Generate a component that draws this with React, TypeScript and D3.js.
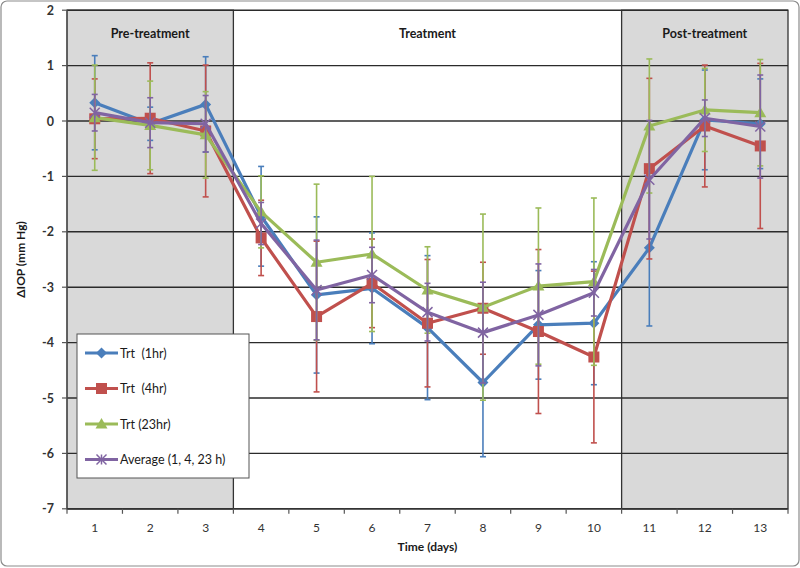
import React from "react";
import * as d3 from "d3";

const days = [1, 2, 3, 4, 5, 6, 7, 8, 9, 10, 11, 12, 13];
const yTicks = [2, 1, 0, -1, -2, -3, -4, -5, -6, -7];

const seriesNames = ["Trt  (1hr)", "Trt  (4hr)", "Trt (23hr)", "Average (1, 4, 23 h)"];
const trt1 = [0.33, -0.05, 0.3, -1.72, -3.14, -3.02, -3.73, -4.72, -3.68, -3.65, -2.29, 0.02, -0.05];
const trt1Err = [0.85, 0.3, 0.86, 0.9, 1.41, 1.0, 1.3, 1.34, 0.98, 1.11, 1.41, 0.9, 0.81];
const trt4 = [0.04, 0.05, -0.18, -2.11, -3.53, -2.93, -3.65, -3.38, -3.8, -4.26, -0.86, -0.09, -0.45];
const trt4Err = [0.72, 1.0, 1.19, 0.68, 1.36, 0.8, 1.15, 0.83, 1.48, 1.55, 1.63, 1.1, 1.49];
const trt23 = [0.06, -0.08, -0.25, -1.64, -2.55, -2.4, -3.05, -3.36, -2.98, -2.9, -0.09, 0.2, 0.15];
const trt23Err = [0.95, 0.8, 0.78, 0.65, 1.41, 1.4, 0.78, 1.68, 1.41, 1.51, 1.21, 0.75, 0.96];
const avg = [0.15, -0.03, -0.05, -1.85, -3.05, -2.78, -3.45, -3.82, -3.5, -3.1, -1.06, 0.05, -0.1];
const avgErr = [0.33, 0.45, 0.51, 0.38, 0.9, 0.5, 0.52, 0.91, 0.92, 0.42, 1.07, 0.33, 0.93];

const sections = [
  { label: "Pre-treatment", from: 1, to: 3, shaded: true },
  { label: "Treatment", from: 4, to: 10, shaded: false },
  { label: "Post-treatment", from: 11, to: 13, shaded: true },
];

const colors = ["#4a7ebb", "#c0504d", "#9bbb59", "#8064a2"];
const markers = ["diamond", "square", "triangle", "star"];

const W = 800;
const H = 568;
const left = 67;
const right = 788;
const top = 10.2;
const bottom = 508.8;
const font = "Lato, 'Open Sans', 'DejaVu Sans', sans-serif";

function Marker({ type, x, y, color }: { type: string; x: number; y: number; color: string }) {
  if (type === "diamond") {
    const s = 5.5;
    return <path d={`M${x},${y - s}L${x + s},${y}L${x},${y + s}L${x - s},${y}Z`} fill={color} />;
  }
  if (type === "square") {
    const s = 5.5;
    return <rect x={x - s} y={y - s} width={2 * s} height={2 * s} fill={color} />;
  }
  if (type === "triangle") {
    const s = 6;
    return <path d={`M${x},${y - s}L${x + s},${y + s * 0.75}L${x - s},${y + s * 0.75}Z`} fill={color} />;
  }
  const s = 5;
  return (
    <g stroke={color} strokeWidth={1.5}>
      <line x1={x - s} y1={y - s} x2={x + s} y2={y + s} />
      <line x1={x - s} y1={y + s} x2={x + s} y2={y - s} />
      <line x1={x} y1={y - s} x2={x} y2={y + s} />
    </g>
  );
}

export default function App() {
  const x = d3.scaleBand<number>().domain(days).range([left, right]).paddingInner(0).paddingOuter(0);
  const y = d3.scaleLinear().domain([-7, 2]).range([bottom, top]);
  const cx = (d: number) => (x(d) as number) + x.bandwidth() / 2;

  const series = [
    { name: seriesNames[0], vals: trt1, err: trt1Err },
    { name: seriesNames[1], vals: trt4, err: trt4Err },
    { name: seriesNames[2], vals: trt23, err: trt23Err },
    { name: seriesNames[3], vals: avg, err: avgErr },
  ];

  const line = d3
    .line<number>()
    .x((_, i) => cx(days[i]))
    .y((v) => y(v));

  const boundaries = d3.range(days.length + 1).map((i) => left + i * x.bandwidth());

  return (
    <svg width={W} height={H} style={{ position: "absolute", left: 0, top: 0 }} fontFamily={font}>
      <rect x={1} y={1} width={W - 2} height={H - 3} rx={6} fill="#fff" stroke="#8c8c8c" strokeWidth={1.2} />
      {sections
        .filter((s) => s.shaded)
        .map((s) => {
          const x0 = x(s.from) as number;
          const x1 = (x(s.to) as number) + x.bandwidth();
          return <rect key={s.label} x={x0} y={top} width={x1 - x0} height={bottom - top} fill="#d9d9d9" stroke="#333" strokeWidth={1.3} />;
        })}
      {yTicks.map((t) => (
        <line key={t} x1={left} x2={right} y1={y(t)} y2={y(t)} stroke="#2b2b2b" strokeWidth={1.4} />
      ))}
      {sections.map((s) => {
        const x0 = x(s.from) as number;
        const x1 = (x(s.to) as number) + x.bandwidth();
        return (
          <text key={s.label} x={(x0 + x1) / 2} y={38} textAnchor="middle" fontSize={12.5} fontWeight="bold" fill="#1a1a1a">
            {s.label}
          </text>
        );
      })}
      <line x1={left} x2={left} y1={top} y2={bottom} stroke="#555" strokeWidth={1.2} />
      {yTicks.map((t) => (
        <g key={"yt" + t}>
          <line x1={left - 5} x2={left} y1={y(t)} y2={y(t)} stroke="#555" strokeWidth={1.2} />
          <text x={left - 13} y={y(t) + 4.5} textAnchor="end" fontSize={12.5} fontWeight="bold" fill="#333">
            {t}
          </text>
        </g>
      ))}
      <line x1={left} x2={right} y1={bottom} y2={bottom} stroke="#333" strokeWidth={1.5} />
      {boundaries.map((b, i) => (
        <line key={"xt" + i} x1={b} x2={b} y1={bottom} y2={bottom + 5} stroke="#555" strokeWidth={1.2} />
      ))}
      {days.map((d) => (
        <text key={"xl" + d} x={cx(d)} y={532} textAnchor="middle" fontSize={12} fill="#333">
          {d}
        </text>
      ))}
      <text x={(left + right) / 2} y={551} textAnchor="middle" fontSize={12} fontWeight="bold" fill="#1a1a1a">
        Time (days)
      </text>
      <text transform={`translate(25,${(top + bottom) / 2}) rotate(-90)`} textAnchor="middle" fontSize={12} fontWeight="bold" fill="#1a1a1a">
        ΔIOP (mm Hg)
      </text>
      {series.map((s, si) => (
        <g key={s.name}>
          {s.vals.map((v, i) => {
            const px = cx(days[i]);
            const y1 = y(v + s.err[i]);
            const y2 = y(v - s.err[i]);
            return (
              <g key={i} stroke={colors[si]} strokeWidth={1.6}>
                <line x1={px} x2={px} y1={y1} y2={y2} />
                <line x1={px - 3} x2={px + 3} y1={y1} y2={y1} />
                <line x1={px - 3} x2={px + 3} y1={y2} y2={y2} />
              </g>
            );
          })}
          <path d={line(s.vals) as string} fill="none" stroke={colors[si]} strokeWidth={3.2} strokeLinejoin="round" />
          {s.vals.map((v, i) => (
            <Marker key={i} type={markers[si]} x={cx(days[i])} y={y(v)} color={colors[si]} />
          ))}
        </g>
      ))}
      <rect x={77} y={334} width={172} height={144} fill="#fff" stroke="#555" strokeWidth={1} />
      {series.map((s, si) => {
        const ly = 353 + si * 35.5;
        return (
          <g key={"lg" + si}>
            <line x1={85} x2={118} y1={ly} y2={ly} stroke={colors[si]} strokeWidth={3} />
            <Marker type={markers[si]} x={101.5} y={ly} color={colors[si]} />
            <text x={120} y={ly + 4.5} fontSize={12.5} fill="#1a1a1a" style={{ whiteSpace: "pre" }} xmlSpace="preserve">
              {s.name}
            </text>
          </g>
        );
      })}
    </svg>
  );
}
